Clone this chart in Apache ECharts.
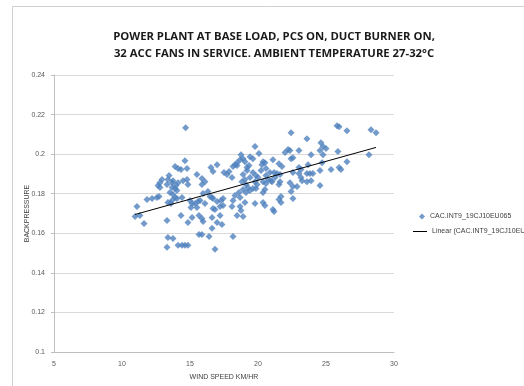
<!DOCTYPE html>
<html>
<head>
<meta charset="utf-8">
<script src="https://cdn.jsdelivr.net/npm/echarts@6/dist/echarts.min.js"></script>
<style>
  html, body { margin: 0; padding: 0; background: #fff; }
  #chart { width: 524px; height: 386px; }
</style>
</head>
<body>
<div id="chart"></div>
<script>
// wind speed (km/hr) and backpressure
var windSpeed = [
  10.96, 11.10, 11.32, 11.62, 11.84, 12.21, 12.57, 12.72, 12.65, 12.79, 12.94, 12.79,
  13.31, 13.38, 13.68, 13.75, 13.68, 13.90, 14.12, 14.12, 13.90, 14.04, 13.97, 13.53,
  13.75, 13.90, 14.04, 13.68, 13.38, 13.60, 13.31, 13.38, 13.75, 13.31, 14.12, 13.46,
  14.68, 14.63, 14.34, 14.78, 14.49, 14.78, 14.85, 14.34, 14.85, 15.15, 15.51, 15.66,
  15.00, 15.15, 15.37, 15.59, 14.41, 14.63, 14.85, 15.51, 14.41, 15.07, 15.66,
  15.88, 16.10, 15.88, 15.74, 15.96, 16.32, 16.62, 16.10, 16.69, 15.88, 15.96, 16.54,
  16.99, 16.69, 16.47, 16.99, 16.84, 17.21, 16.62, 16.99, 17.21, 16.62, 15.88, 16.40,
  16.84, 16.69,
  17.50, 17.72, 17.87, 18.09, 18.31, 18.46, 17.28, 17.43, 17.43, 17.35, 18.16, 18.31,
  18.68, 18.09, 18.60, 18.46, 18.16, 18.16, 18.68, 18.46,
  18.75, 18.90, 19.04, 19.41, 19.63, 19.19, 19.34, 19.19, 18.90, 19.04, 18.82, 19.12,
  18.90, 19.26, 18.68, 18.75, 18.90, 19.04, 19.12, 19.41, 19.63, 19.85, 19.63, 19.85,
  20.00, 19.41, 19.78, 19.93, 19.78, 20.07, 19.78,
  20.37, 20.51, 20.29, 20.22, 20.59, 20.88, 21.18, 21.40, 21.62, 20.59, 20.74, 20.96,
  21.25, 20.37, 20.59, 21.03, 20.51, 20.37, 20.37, 20.51, 21.10, 21.10, 21.18, 21.54,
  21.76, 21.99, 22.21, 22.35, 22.43, 22.57, 22.43, 23.01, 21.62, 21.54, 21.69, 21.54,
  21.69, 22.57, 22.35, 22.57, 22.43, 22.87, 22.57, 23.01, 23.01,
  23.16, 23.16, 23.24, 23.60, 23.90, 23.60, 23.82, 24.04, 23.60, 23.68, 23.90, 24.56,
  24.63, 24.78, 25.00, 24.56, 24.78, 24.71, 24.56, 25.37, 25.96, 26.10, 25.88, 25.81,
  25.96, 26.54, 26.54,
  28.16, 28.31, 28.68
];
var backPressure = [
  0.1685, 0.1736, 0.1690, 0.1650, 0.1771, 0.1776, 0.1781, 0.1786, 0.1841, 0.1856, 0.1872, 0.1831,
  0.1846, 0.1872, 0.1856, 0.1866, 0.1831, 0.1937, 0.1927, 0.1856, 0.1826, 0.1816, 0.1841, 0.1806,
  0.1796, 0.1781, 0.1776, 0.1766, 0.1756, 0.1751, 0.1665, 0.1579, 0.1574, 0.1529, 0.1539, 0.1892,
  0.2134, 0.1967, 0.1922, 0.1927, 0.1866, 0.1872, 0.1846, 0.1690, 0.1655, 0.1680, 0.1730, 0.1690,
  0.1766, 0.1751, 0.1751, 0.1761, 0.1539, 0.1539, 0.1539, 0.1897, 0.1781, 0.1730, 0.1594,
  0.1877, 0.1861, 0.1846, 0.1766, 0.1801, 0.1811, 0.1781, 0.1751, 0.1725, 0.1675, 0.1660, 0.1932,
  0.1947, 0.1912, 0.1786, 0.1761, 0.1720, 0.1736, 0.1680, 0.1655, 0.1690, 0.1625, 0.1594, 0.1584,
  0.1519, 0.1776,
  0.1907, 0.1897, 0.1912, 0.1882, 0.1947, 0.1942, 0.1766, 0.1776, 0.1741, 0.1645, 0.1766, 0.1791,
  0.1781, 0.1736, 0.1806, 0.1690, 0.1584, 0.1937, 0.1972, 0.1957,
  0.1997, 0.1977, 0.1962, 0.1987, 0.1977, 0.1932, 0.1942, 0.1917, 0.1897, 0.1872, 0.1861, 0.1846,
  0.1821, 0.1831, 0.1736, 0.1715, 0.1685, 0.1756, 0.1806, 0.1816, 0.1826, 0.1826, 0.1907, 0.1892,
  0.1882, 0.1882, 0.1861, 0.1846, 0.2038, 0.2003, 0.1751,
  0.1962, 0.1957, 0.1947, 0.1917, 0.1927, 0.1907, 0.1907, 0.1902, 0.1897, 0.1892, 0.1872, 0.1866,
  0.1882, 0.1861, 0.1851, 0.1861, 0.1821, 0.1806, 0.1756, 0.1741, 0.1972, 0.1720, 0.1710, 0.1952,
  0.1937, 0.2008, 0.2023, 0.2018, 0.1977, 0.1982, 0.2108, 0.2018, 0.1861, 0.1846, 0.1786, 0.1771,
  0.1756, 0.1907, 0.1856, 0.1836, 0.1811, 0.1836, 0.1776, 0.1932, 0.1902,
  0.1922, 0.1882, 0.1866, 0.1861, 0.1866, 0.1902, 0.1902, 0.1902, 0.2078, 0.1947, 0.1997, 0.1841,
  0.2058, 0.2038, 0.2028, 0.2018, 0.1997, 0.1957, 0.1917, 0.1922, 0.1932, 0.1922, 0.2013, 0.2144,
  0.2139, 0.2118, 0.1962,
  0.1997, 0.2123, 0.2108
];
// linear trendline end points
var trendX = [10.96, 28.68];
var trendY = [0.1695, 0.2034];

var seriesName = 'CAC.INT9_19CJ10EU065';
var trendName = 'Linear (CAC.INT9_19CJ10EU065)';

var points = windSpeed.map(function (w, i) { return [w, backPressure[i]]; });
var trend = trendX.map(function (w, i) { return [w, trendY[i]]; });

var myChart = echarts.init(document.getElementById('chart'));
var labelFont = { color: '#595959', fontSize: 7, fontFamily: 'Liberation Sans' };
var legendText = { color: '#404040', fontSize: 7, fontFamily: 'Liberation Sans' };

var option = {
  backgroundColor: '#fff',
  animation: false,
  title: {
    text: 'POWER PLANT AT BASE LOAD, PCS ON, DUCT BURNER ON,\n32 ACC FANS IN SERVICE. AMBIENT TEMPERATURE 27-32°C',
    left: 269,
    top: 23,
    textAlign: 'center',
    textStyle: {
      fontFamily: 'Open Sans',
      fontWeight: 'bold',
      fontSize: 11.3,
      lineHeight: 17,
      color: '#1a1a1a'
    }
  },
  graphic: [{
    type: 'rect',
    shape: { x: 12.5, y: 6.5, width: 600, height: 500 },
    style: { fill: 'none', stroke: '#d0d0d0', lineWidth: 1 },
    silent: true
  }],
  legend: [
    {
      left: 414,
      top: 208,
      itemWidth: 6,
      itemHeight: 6,
      itemGap: 0,
      textStyle: legendText,
      data: [{ name: seriesName, icon: 'diamond' }]
    },
    {
      left: 408,
      top: 223,
      itemWidth: 14,
      itemHeight: 1,
      textStyle: legendText,
      data: [{ name: trendName, icon: 'rect' }]
    }
  ],
  grid: { left: 54, right: 130, top: 75, bottom: 33, containLabel: false },
  xAxis: {
    type: 'value',
    min: 5,
    max: 30,
    interval: 5,
    name: 'WIND SPEED KM/HR',
    nameLocation: 'middle',
    nameGap: 22,
    nameTextStyle: { color: '#404040', fontSize: 7, fontFamily: 'Liberation Sans' },
    axisLine: { lineStyle: { color: '#bfbfbf' } },
    axisTick: { show: false },
    axisLabel: Object.assign({ margin: 9 }, labelFont),
    splitLine: { show: false }
  },
  yAxis: {
    type: 'value',
    min: 0.1,
    max: 0.24,
    interval: 0.02,
    name: 'BACKPRESSURE',
    nameLocation: 'middle',
    nameGap: 23,
    nameMoveOverlap: false,
    nameTextStyle: { color: '#404040', fontSize: 7, fontFamily: 'Liberation Sans' },
    axisLine: { show: true, lineStyle: { color: '#bfbfbf' } },
    axisTick: { show: true, length: 3, lineStyle: { color: '#bfbfbf' } },
    axisLabel: Object.assign({
      margin: 9,
      formatter: function (v) { return String(+v.toFixed(2)); }
    }, labelFont),
    splitLine: { show: true, lineStyle: { color: '#d9d9d9' } }
  },
  series: [
    {
      name: seriesName,
      type: 'scatter',
      symbol: 'diamond',
      symbolSize: 7,
      itemStyle: { color: '#4f81bd' },
      data: points
    },
    {
      name: trendName,
      type: 'line',
      symbol: 'none',
      lineStyle: { color: '#000', width: 1 },
      itemStyle: { color: '#000' },
      data: trend,
      z: 3
    }
  ]
};
myChart.setOption(option);
</script>
</body>
</html>
